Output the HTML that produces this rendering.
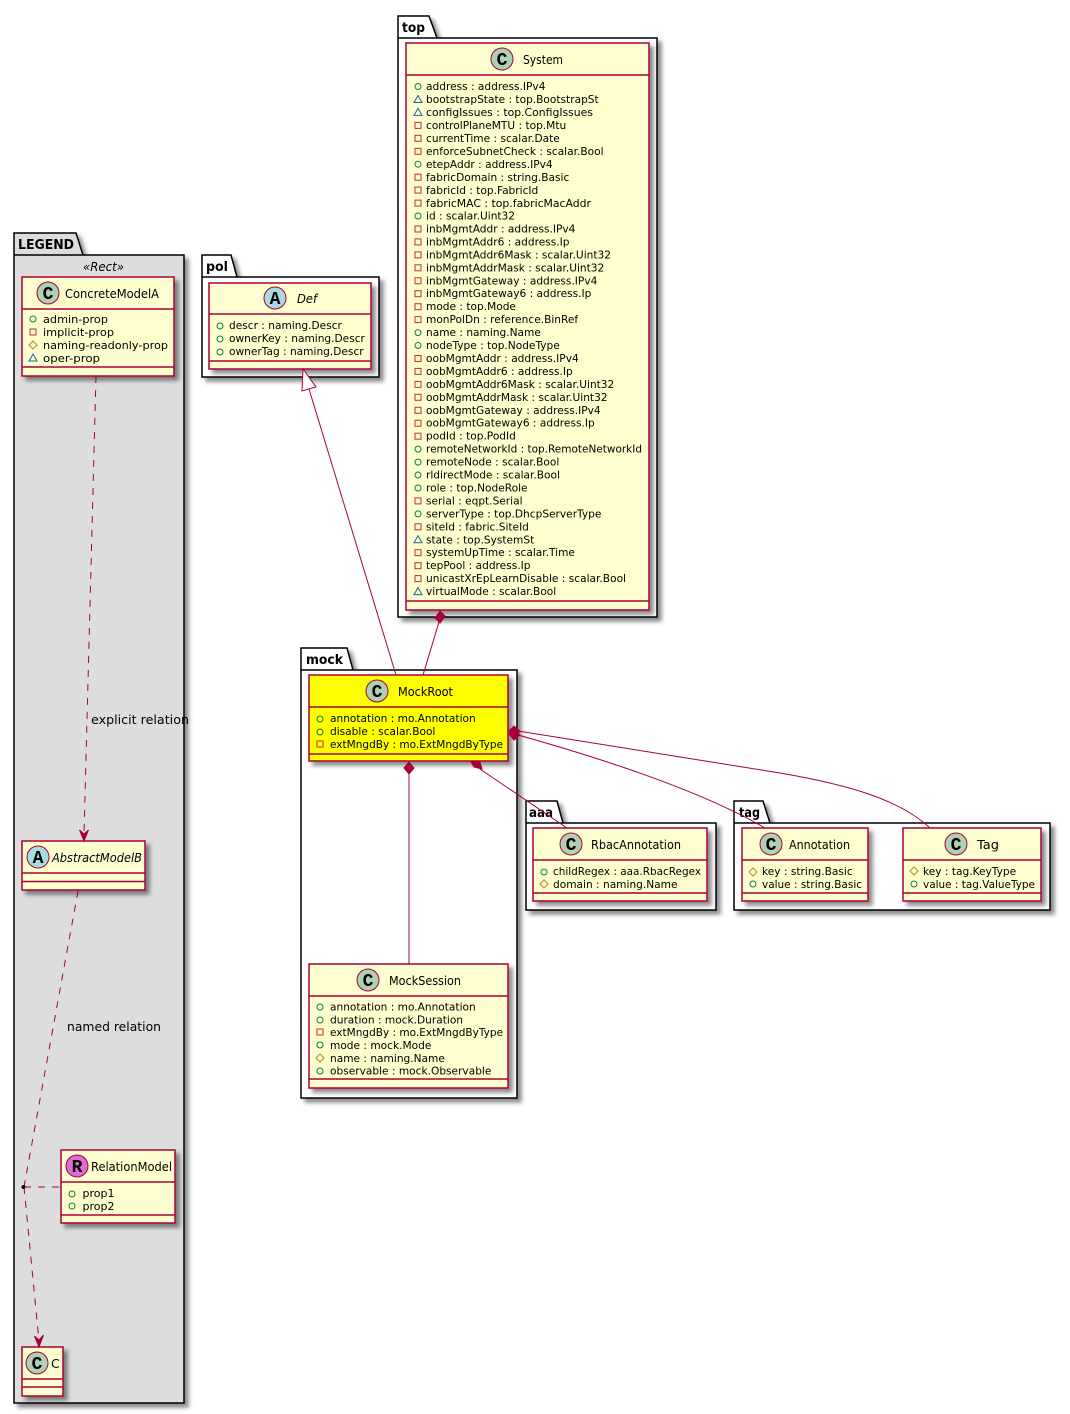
<!DOCTYPE html>
<html><head><meta charset="utf-8"><style>
html,body{margin:0;padding:0;background:#fff}
svg{display:block}
text{font-family:"DejaVu Sans","Liberation Sans",sans-serif;fill:#000}
.a{font-size:10.6px}
.t{font-size:12.5px}
.i{font-size:12.5px;font-style:italic}
.p{font-size:13.5px;font-weight:bold}
.g{font-family:"Liberation Mono",monospace;font-size:18px;font-weight:bold;text-anchor:middle}
.l{font-size:12.5px}
.k{fill:#FEFECE;stroke:#A80036;stroke-width:1.5}
.s{stroke:#A80036;stroke-width:1.5;fill:none}
.c{stroke:#A80036;stroke-width:1;fill:none}
.d{stroke:#A80036;stroke-width:1;fill:none;stroke-dasharray:7 7}
.pk{fill:#fff;stroke:#000;stroke-width:1.5}
.m{fill:#A80036;stroke:#A80036;stroke-width:1}
</style></head><body>
<svg width="1070" height="1414" viewBox="0 0 1070 1414" xmlns="http://www.w3.org/2000/svg">
<defs>
<filter id="sh" x="-20%" y="-20%" width="150%" height="150%"><feDropShadow dx="4" dy="4" stdDeviation="2.2" flood-color="#000" flood-opacity="0.45"/></filter>
<g id="v1"><circle r="3" fill="none" stroke="#038048"/></g>
<g id="v2"><rect x="-3" y="-3" width="6" height="6" fill="none" stroke="#C82930"/></g>
<g id="v3"><path d="M0,-4L4,0L0,4L-4,0Z" fill="none" stroke="#B38D22"/></g>
<g id="v4"><path d="M-4,3L4,3L0,-4Z" fill="none" stroke="#1963A0"/></g>
</defs>

<!-- packages -->
<path class="pk" filter="url(#sh)" d="M14,233H76L83,255H184V1403H14Z" style="fill:#DDD"/>
<path class="pk" d="M14,255H83" style="fill:none"/>
<text class="p" x="18" y="249" textLength="56" lengthAdjust="spacingAndGlyphs">LEGEND</text>
<text class="i" x="83" y="271" textLength="41" lengthAdjust="spacingAndGlyphs">«Rect»</text>

<path class="pk" filter="url(#sh)" d="M202,255H231L237,277H379V377H202Z"/>
<path class="pk" d="M202,277H237"/>
<text class="p" x="206" y="271" textLength="22" lengthAdjust="spacingAndGlyphs">pol</text>

<path class="pk" filter="url(#sh)" d="M398,16H429L437,38H657V617H398Z"/>
<path class="pk" d="M398,38H437"/>
<text class="p" x="402" y="32" textLength="23" lengthAdjust="spacingAndGlyphs">top</text>

<path class="pk" filter="url(#sh)" d="M301,648H347L353,670H517V1098H301Z"/>
<path class="pk" d="M301,670H353"/>
<text class="p" x="306" y="664" textLength="37" lengthAdjust="spacingAndGlyphs">mock</text>

<path class="pk" filter="url(#sh)" d="M526,801H557L563,823H716V910H526Z"/>
<path class="pk" d="M526,823H563"/>
<text class="p" x="529" y="817" textLength="24" lengthAdjust="spacingAndGlyphs">aaa</text>

<path class="pk" filter="url(#sh)" d="M734,801H763L770,823H1050V910H734Z"/>
<path class="pk" d="M734,823H770"/>
<text class="p" x="739" y="817" textLength="21" lengthAdjust="spacingAndGlyphs">tag</text>

<!-- System -->
<rect class="k" filter="url(#sh)" x="406" y="43" width="243" height="567"/>
<path class="s" d="M406,75H649M406,601H649"/>
<circle cx="502" cy="59" r="11" fill="#ADD1B2" stroke="#A80036"/><text class="g" x="502" y="65">C</text>
<text class="t" x="523" y="64" textLength="40" lengthAdjust="spacingAndGlyphs">System</text>
<use href="#v1" x="418" y="86.5"/><text class="a" x="426" y="90">address : address.IPv4</text>
<use href="#v4" x="418" y="99.5"/><text class="a" x="426" y="103">bootstrapState : top.BootstrapSt</text>
<use href="#v4" x="418" y="112.4"/><text class="a" x="426" y="116" textLength="167" lengthAdjust="spacingAndGlyphs">configIssues : top.ConfigIssues</text>
<use href="#v2" x="418" y="125.4"/><text class="a" x="426" y="129">controlPlaneMTU : top.Mtu</text>
<use href="#v2" x="418" y="138.3"/><text class="a" x="426" y="142">currentTime : scalar.Date</text>
<use href="#v2" x="418" y="151.3"/><text class="a" x="426" y="155">enforceSubnetCheck : scalar.Bool</text>
<use href="#v1" x="418" y="164.2"/><text class="a" x="426" y="168">etepAddr : address.IPv4</text>
<use href="#v2" x="418" y="177.2"/><text class="a" x="426" y="181">fabricDomain : string.Basic</text>
<use href="#v2" x="418" y="190.1"/><text class="a" x="426" y="194">fabricId : top.FabricId</text>
<use href="#v2" x="418" y="203.1"/><text class="a" x="426" y="207" textLength="165" lengthAdjust="spacingAndGlyphs">fabricMAC : top.fabricMacAddr</text>
<use href="#v1" x="418" y="216"/><text class="a" x="426" y="219.5">id : scalar.Uint32</text>
<use href="#v2" x="418" y="229"/><text class="a" x="426" y="232.5">inbMgmtAddr : address.IPv4</text>
<use href="#v2" x="418" y="241.9"/><text class="a" x="426" y="245.4">inbMgmtAddr6 : address.Ip</text>
<use href="#v2" x="418" y="254.9"/><text class="a" x="426" y="258.4">inbMgmtAddr6Mask : scalar.Uint32</text>
<use href="#v2" x="418" y="267.8"/><text class="a" x="426" y="271.3">inbMgmtAddrMask : scalar.Uint32</text>
<use href="#v2" x="418" y="280.8"/><text class="a" x="426" y="284.3">inbMgmtGateway : address.IPv4</text>
<use href="#v2" x="418" y="293.7"/><text class="a" x="426" y="297.2">inbMgmtGateway6 : address.Ip</text>
<use href="#v2" x="418" y="306.7"/><text class="a" x="426" y="310.2">mode : top.Mode</text>
<use href="#v2" x="418" y="319.6"/><text class="a" x="426" y="323.1">monPolDn : reference.BinRef</text>
<use href="#v1" x="418" y="332.6"/><text class="a" x="426" y="336.1">name : naming.Name</text>
<use href="#v1" x="418" y="345.5"/><text class="a" x="426" y="349">nodeType : top.NodeType</text>
<use href="#v2" x="418" y="358.5"/><text class="a" x="426" y="362">oobMgmtAddr : address.IPv4</text>
<use href="#v2" x="418" y="371.4"/><text class="a" x="426" y="374.9">oobMgmtAddr6 : address.Ip</text>
<use href="#v2" x="418" y="384.4"/><text class="a" x="426" y="387.9">oobMgmtAddr6Mask : scalar.Uint32</text>
<use href="#v2" x="418" y="397.3"/><text class="a" x="426" y="400.8">oobMgmtAddrMask : scalar.Uint32</text>
<use href="#v2" x="418" y="410.3"/><text class="a" x="426" y="413.8">oobMgmtGateway : address.IPv4</text>
<use href="#v2" x="418" y="423.2"/><text class="a" x="426" y="426.7">oobMgmtGateway6 : address.Ip</text>
<use href="#v2" x="418" y="436.2"/><text class="a" x="426" y="439.7">podId : top.PodId</text>
<use href="#v1" x="418" y="449.1"/><text class="a" x="426" y="452.6" textLength="216" lengthAdjust="spacingAndGlyphs">remoteNetworkId : top.RemoteNetworkId</text>
<use href="#v1" x="418" y="462.1"/><text class="a" x="426" y="465.6">remoteNode : scalar.Bool</text>
<use href="#v1" x="418" y="475"/><text class="a" x="426" y="478.5">rldirectMode : scalar.Bool</text>
<use href="#v1" x="418" y="488"/><text class="a" x="426" y="491.5">role : top.NodeRole</text>
<use href="#v2" x="418" y="500.9"/><text class="a" x="426" y="504.4">serial : eqpt.Serial</text>
<use href="#v1" x="418" y="513.9"/><text class="a" x="426" y="517.4">serverType : top.DhcpServerType</text>
<use href="#v2" x="418" y="526.8"/><text class="a" x="426" y="530.3">siteId : fabric.SiteId</text>
<use href="#v4" x="418" y="539.8"/><text class="a" x="426" y="543.3">state : top.SystemSt</text>
<use href="#v2" x="418" y="552.7"/><text class="a" x="426" y="556.2">systemUpTime : scalar.Time</text>
<use href="#v2" x="418" y="565.7"/><text class="a" x="426" y="569.2">tepPool : address.Ip</text>
<use href="#v2" x="418" y="578.6"/><text class="a" x="426" y="582.1" textLength="200" lengthAdjust="spacingAndGlyphs">unicastXrEpLearnDisable : scalar.Bool</text>
<use href="#v4" x="418" y="591.6"/><text class="a" x="426" y="595.1">virtualMode : scalar.Bool</text>

<!-- Def -->
<rect class="k" filter="url(#sh)" x="209" y="283" width="162" height="86"/>
<path class="s" d="M209,314H371M209,361H371"/>
<circle cx="275" cy="298" r="11" fill="#A9DCDF" stroke="#A80036"/><text class="g" x="275" y="304">A</text>
<text class="i" x="297" y="303" textLength="20" lengthAdjust="spacingAndGlyphs">Def</text>
<use href="#v1" x="220" y="326"/><text class="a" x="229" y="329">descr : naming.Descr</text>
<use href="#v1" x="220" y="339"/><text class="a" x="229" y="342">ownerKey : naming.Descr</text>
<use href="#v1" x="220" y="352"/><text class="a" x="229" y="355">ownerTag : naming.Descr</text>

<!-- MockRoot -->
<rect class="k" filter="url(#sh)" x="309" y="675" width="199" height="86" style="fill:#FFFF00"/>
<path class="s" d="M309,707H508M309,754H508"/>
<circle cx="377" cy="691" r="11" fill="#ADD1B2" stroke="#A80036"/><text class="g" x="377" y="697">C</text>
<text class="t" x="398" y="696" textLength="55" lengthAdjust="spacingAndGlyphs">MockRoot</text>
<use href="#v1" x="320" y="719"/><text class="a" x="330" y="722">annotation : mo.Annotation</text>
<use href="#v1" x="320" y="732"/><text class="a" x="330" y="735">disable : scalar.Bool</text>
<use href="#v2" x="320" y="744"/><text class="a" x="330" y="748" textLength="173" lengthAdjust="spacingAndGlyphs">extMngdBy : mo.ExtMngdByType</text>

<!-- MockSession -->
<rect class="k" filter="url(#sh)" x="309" y="964" width="199" height="124"/>
<path class="s" d="M309,996H508M309,1079H508"/>
<circle cx="368" cy="980" r="11" fill="#ADD1B2" stroke="#A80036"/><text class="g" x="368" y="986">C</text>
<text class="t" x="389" y="985" textLength="72" lengthAdjust="spacingAndGlyphs">MockSession</text>
<use href="#v1" x="320" y="1007"/><text class="a" x="330" y="1010.5">annotation : mo.Annotation</text>
<use href="#v1" x="320" y="1020"/><text class="a" x="330" y="1023.5">duration : mock.Duration</text>
<use href="#v2" x="320" y="1032"/><text class="a" x="330" y="1036" textLength="173" lengthAdjust="spacingAndGlyphs">extMngdBy : mo.ExtMngdByType</text>
<use href="#v1" x="320" y="1045"/><text class="a" x="330" y="1049">mode : mock.Mode</text>
<use href="#v3" x="320" y="1058"/><text class="a" x="330" y="1062">name : naming.Name</text>
<use href="#v1" x="320" y="1071"/><text class="a" x="330" y="1074.5">observable : mock.Observable</text>

<!-- RbacAnnotation -->
<rect class="k" filter="url(#sh)" x="533" y="828" width="174" height="73"/>
<path class="s" d="M533,860H707M533,893H707"/>
<circle cx="571" cy="844" r="11" fill="#ADD1B2" stroke="#A80036"/><text class="g" x="571" y="850">C</text>
<text class="t" x="591" y="849" textLength="90" lengthAdjust="spacingAndGlyphs">RbacAnnotation</text>
<use href="#v1" x="544" y="872"/><text class="a" x="553" y="875" textLength="148" lengthAdjust="spacingAndGlyphs">childRegex : aaa.RbacRegex</text>
<use href="#v3" x="544" y="884"/><text class="a" x="553" y="888">domain : naming.Name</text>

<!-- Annotation -->
<rect class="k" filter="url(#sh)" x="742" y="828" width="126" height="73"/>
<path class="s" d="M742,860H868M742,893H868"/>
<circle cx="771" cy="844" r="11" fill="#ADD1B2" stroke="#A80036"/><text class="g" x="771" y="850">C</text>
<text class="t" x="789" y="849" textLength="61" lengthAdjust="spacingAndGlyphs">Annotation</text>
<use href="#v3" x="753" y="872"/><text class="a" x="762" y="875">key : string.Basic</text>
<use href="#v1" x="753" y="884"/><text class="a" x="762" y="888" textLength="100" lengthAdjust="spacingAndGlyphs">value : string.Basic</text>

<!-- Tag -->
<rect class="k" filter="url(#sh)" x="903" y="828" width="138" height="73"/>
<path class="s" d="M903,860H1041M903,893H1041"/>
<circle cx="956" cy="844" r="11" fill="#ADD1B2" stroke="#A80036"/><text class="g" x="956" y="850">C</text>
<text class="t" x="977" y="849" textLength="22" lengthAdjust="spacingAndGlyphs">Tag</text>
<use href="#v3" x="914" y="871"/><text class="a" x="923" y="875">key : tag.KeyType</text>
<use href="#v1" x="914" y="884"/><text class="a" x="923" y="888" textLength="112" lengthAdjust="spacingAndGlyphs">value : tag.ValueType</text>

<!-- ConcreteModelA -->
<rect class="k" filter="url(#sh)" x="22" y="277" width="152" height="99"/>
<path class="s" d="M22,309H174M22,367H174"/>
<circle cx="48" cy="293" r="11" fill="#ADD1B2" stroke="#A80036"/><text class="g" x="48" y="299">C</text>
<text class="t" x="65" y="298" textLength="94" lengthAdjust="spacingAndGlyphs">ConcreteModelA</text>
<use href="#v1" x="33" y="319"/><text class="a" x="43" y="323" textLength="65" lengthAdjust="spacingAndGlyphs">admin-prop</text>
<use href="#v2" x="33" y="332"/><text class="a" x="43" y="336" textLength="71" lengthAdjust="spacingAndGlyphs">implicit-prop</text>
<use href="#v3" x="33" y="345"/><text class="a" x="43" y="349" textLength="125" lengthAdjust="spacingAndGlyphs">naming-readonly-prop</text>
<use href="#v4" x="33" y="358"/><text class="a" x="43" y="362" textLength="57" lengthAdjust="spacingAndGlyphs">oper-prop</text>

<!-- AbstractModelB -->
<rect class="k" filter="url(#sh)" x="22" y="841" width="123" height="49"/>
<path class="s" d="M22,873H145M22,881.500H145"/>
<circle cx="38" cy="857" r="11" fill="#A9DCDF" stroke="#A80036"/><text class="g" x="38" y="863">A</text>
<text class="i" x="52" y="862" textLength="90" lengthAdjust="spacingAndGlyphs">AbstractModelB</text>

<!-- RelationModel -->
<rect class="k" filter="url(#sh)" x="61" y="1150" width="114" height="73"/>
<path class="s" d="M61,1182H175M61,1215H175"/>
<circle cx="77" cy="1166" r="11" fill="#DC6ED4" stroke="#A80036"/><text class="g" x="77" y="1172">R</text>
<text class="t" x="91" y="1171" textLength="81" lengthAdjust="spacingAndGlyphs">RelationModel</text>
<use href="#v1" x="72" y="1194"/><text class="a" x="82.500" y="1197" textLength="32" lengthAdjust="spacingAndGlyphs">prop1</text>
<use href="#v1" x="72" y="1206"/><text class="a" x="82.500" y="1210" textLength="32" lengthAdjust="spacingAndGlyphs">prop2</text>

<!-- C -->
<rect class="k" filter="url(#sh)" x="22" y="1347" width="41" height="49"/>
<path class="s" d="M22,1379H63M22,1387H63"/>
<circle cx="37" cy="1363" r="11" fill="#ADD1B2" stroke="#A80036"/><text class="g" x="37" y="1369">C</text>
<text class="t" x="51" y="1368">C</text>

<!-- connectors -->
<path class="d" d="M96,376L84,835"/>
<path class="m" d="M84,841L79.500,830L84,834L88.500,830Z"/>
<text class="l" x="91" y="724" textLength="98" lengthAdjust="spacingAndGlyphs">explicit relation</text>
<path class="d" d="M78,891L24,1187"/>
<path class="d" d="M24,1187L39,1341"/>
<path class="m" d="M39,1347L34.500,1336L39,1340L43.500,1335Z"/>
<circle cx="23.500" cy="1187" r="2" fill="#000"/>
<path class="d" d="M24,1187H61"/>
<text class="l" x="67" y="1031" textLength="94" lengthAdjust="spacingAndGlyphs">named relation</text>

<path class="c" d="M396,675L309,389"/>
<path d="M303,369L302,391L316,387Z" fill="#fff" stroke="#A80036"/>
<path class="c" d="M423,675L439,622"/>
<path class="m" d="M440,611L445,616L440,623L435,618Z"/>
<path class="c" d="M409,773V964"/>
<path class="m" d="M409,762L414,768L409,774L404,768Z"/>
<path class="c" d="M480,769L567,828"/>
<path class="m" d="M471,762L480,762L482,769L474,767Z"/>
<path class="c" d="M518,735C600,758 700,790 765,828"/>
<path class="c" d="M518,731L780,773C850,785 900,800 930,828"/>
<path class="m" d="M509,731L514,726L520,731L514,737Z"/>
<path class="m" d="M509,734L514,729L520,735L514,740Z"/>
</svg>
</body></html>
